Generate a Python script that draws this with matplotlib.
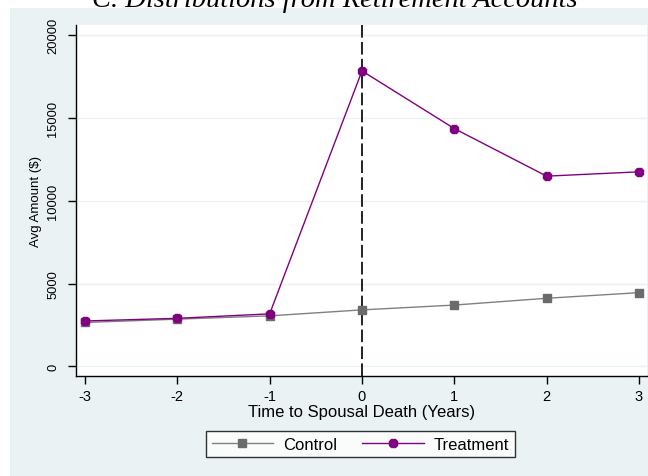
import matplotlib
matplotlib.use("Agg")
import matplotlib.pyplot as plt
from matplotlib.lines import Line2D

years = [-3, -2, -1, 0, 1, 2, 3]
control = [2650, 2850, 3050, 3410, 3700, 4110, 4450]
treatment = [2740, 2900, 3170, 17830, 14350, 11480, 11740]
yticks = [0, 5000, 10000, 15000, 20000]
xticks = [-3, -2, -1, 0, 1, 2, 3]

W, H = 648, 477
fig = plt.figure(figsize=(W / 100, H / 100), dpi=100)
fig.patch.set_facecolor("white")
# graph region background
fig.add_artist(plt.Rectangle((10 / W, 0), 1 - 10 / W, 1 - 9 / H,
                             transform=fig.transFigure, facecolor="#EAF2F3",
                             edgecolor="none", zorder=0))

left, right, top, bottom = 76, 647, 26, 377
ax = fig.add_axes([left / W, 1 - bottom / H, (right - left) / W, (bottom - top) / H])
ax.set_facecolor("white")
ax.set_xlim(-3.0975, 3.087)
ax.set_ylim(-580, 20600)

for yt in yticks:
    ax.axhline(yt, color="#EAF2F3", lw=1.0, zorder=1)

ax.axvline(0, color="#222222", lw=1.4, ls=(0, (6.5, 2.2)), zorder=2)

ax.plot(years, control, color="#808080", lw=1.0, marker="s", ms=5.8,
        mfc="#6b6b6b", mec="#6b6b6b", zorder=3)
ax.plot(years, treatment, color="#800080", lw=1.0, marker="8", ms=7.0,
        mfc="#800080", mec="#800080", zorder=4)

for s in ["top", "right"]:
    ax.spines[s].set_visible(False)
for s in ["left", "bottom"]:
    ax.spines[s].set_color("black")
    ax.spines[s].set_linewidth(1.0)

ax.set_yticks(yticks)
ax.set_yticklabels([str(v) for v in yticks], rotation=90, va="center",
                   fontsize=9.3, family="Liberation Sans")
ax.set_xticks(xticks)
ax.set_xticklabels([str(v) for v in xticks], fontsize=10.5, family="Liberation Sans")
ax.tick_params(axis="both", direction="out", length=6, width=1, colors="black")
ax.tick_params(axis="y", pad=6)
ax.tick_params(axis="x", pad=3.5)

ax.set_ylabel("Avg Amount ($)", fontsize=9.5, family="Liberation Sans", labelpad=4)
ax.set_xlabel("Time to Spousal Death (Years)", fontsize=12, family="Liberation Sans",
              labelpad=0.5)

fig.text(335 / W, 1 - 7 / H, "C. Distributions from Retirement Accounts",
         ha="center", va="baseline", fontsize=20.5, style="italic", family="Liberation Serif")

handles = [
    Line2D([], [], color="#808080", lw=1.0, marker="s", ms=5.8, mfc="#6b6b6b", mec="#6b6b6b"),
    Line2D([], [], color="#800080", lw=1.0, marker="8", ms=7.0, mfc="#800080", mec="#800080"),
]
leg = fig.legend(handles, ["Control", "Treatment"], loc="center",
                 bbox_to_anchor=(360.5 / W, 1 - 445 / H), ncol=2, frameon=True,
                 fancybox=False, edgecolor="black", handlelength=3.7,
                 prop={"family": "Liberation Sans", "size": 12}, columnspacing=1.5,
                 handletextpad=0.6, borderpad=0.35, borderaxespad=0)
leg.get_frame().set_linewidth(1.0)

fig.savefig("out.png", dpi=100, facecolor=fig.get_facecolor())
